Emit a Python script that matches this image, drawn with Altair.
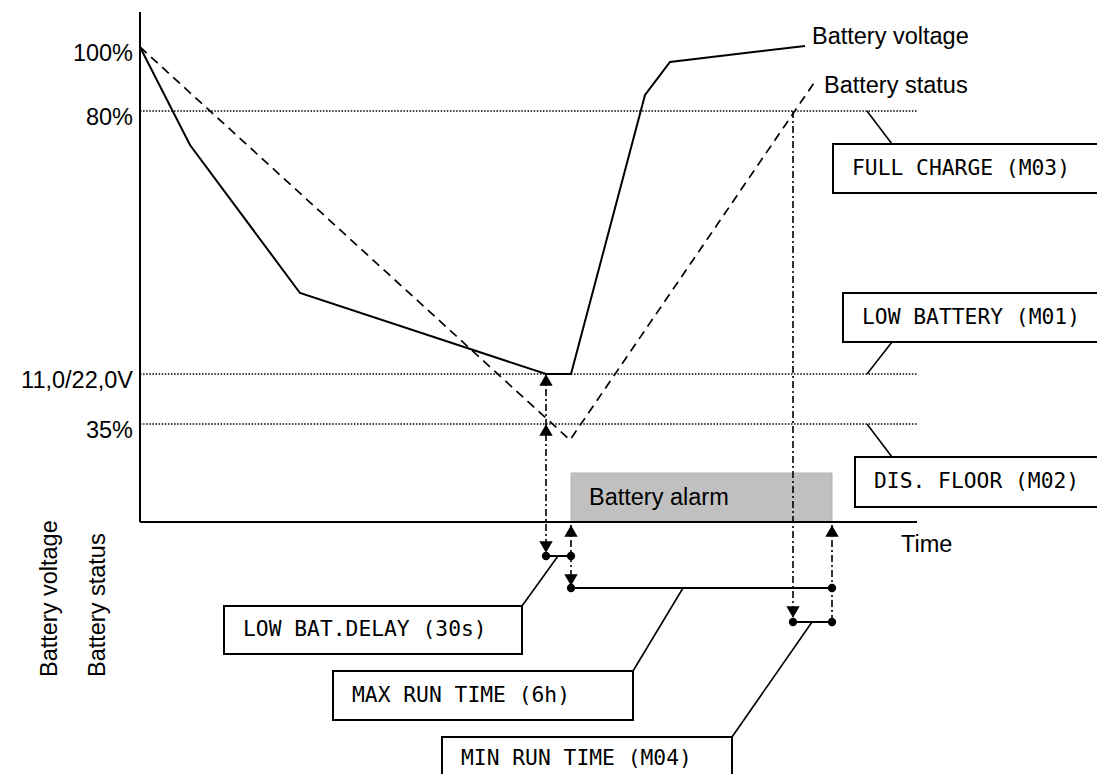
import altair as alt
import pandas as pd

# ---------------- diagram data ----------------
# time units along the horizontal axis, level units above the time axis
volt_t = [0, 50, 160, 406, 431, 505, 530, 665]
volt_L = [475, 377, 229, 148, 148, 427, 460, 476]
stat_t = [0, 430, 676]
stat_L = [475, 82, 442]

tick_labels = ["100%", "80%", "11,0/22,0V", "35%"]
tick_levels = [475, 411, 148, 98]
ref_levels = [411, 148, 98]
axis_end_t = 777
axis_top_L = 510

alarm_t = [431, 692]
alarm_L = [0, 49]

# dash-dot event markers
ev_t = [406, 431, 653, 692]
ev_L0 = [148, -3, 411, -3]
ev_L1 = [-30, -63, -95, -100]

# arrowheads
arr_t = [406, 406, 406, 431, 431, 653, 692]
arr_L = [142, 92, -25, -9, -58, -90, -9]
arr_dir = ["up", "up", "down", "up", "down", "down", "up"]

# timer segments
tim_t0 = [406, 431, 653]
tim_t1 = [431, 692, 692]
tim_L = [-34, -66, -100]

# boxes
box_text = ["FULL CHARGE (M03)", "LOW BATTERY (M01)", "DIS. FLOOR (M02)",
            "LOW BAT.DELAY (30s)", "MAX RUN TIME (6h)", "MIN RUN TIME (M04)"]
box_t0 = [693, 703, 715, 84, 193, 302]
box_t1 = [985, 985, 985, 382, 493, 592]
box_L0 = [329, 180, 15, -132, -198, -258]
box_L1 = [378, 229, 65, -84, -149, -215]

# leader lines
lead_t0 = [727, 727, 727, 418, 543, 672]
lead_L0 = [411, 148, 98, -34, -66, -100]
lead_t1 = [752, 752, 752, 382, 493, 592]
lead_L1 = [378, 180, 65, -84, -149, -215]

series_labels = ["Battery voltage", "Battery status"]
series_label_t = [672, 684]
series_label_L = [485, 436]

y_titles = ["Battery voltage", "Battery status"]
y_title_t = [-90, -42]
y_title_L = [-155, -155]

# ---------------- scales ----------------
xs = alt.Scale(domain=[-132, 957], nice=False, zero=False)
ys = alt.Scale(domain=[-252, 514], nice=False, zero=False)

def X(f):
    return alt.X(f, type="quantitative", scale=xs, axis=None)

def Y(f):
    return alt.Y(f, type="quantitative", scale=ys, axis=None)

SANS = "Liberation Sans"
MONO = "DejaVu Sans Mono"
SANS_SIZE = 23.5
MONO_SIZE = 21.3

layers = []

# alarm rect
alarm_df = pd.DataFrame({"t0": [alarm_t[0]], "t1": [alarm_t[1]], "L0": [alarm_L[0]], "L1": [alarm_L[1]]})
layers.append(alt.Chart(alarm_df).mark_rect(fill="#c0c0c0", stroke="#b0b0b0", strokeWidth=1).encode(
    x=X("t0"), x2="t1", y=Y("L0"), y2="L1"))
layers.append(alt.Chart(pd.DataFrame({"t": [alarm_t[0]], "L": [sum(alarm_L) / 2], "s": ["Battery alarm"]}))
              .mark_text(font=SANS, fontSize=SANS_SIZE, align="left", baseline="middle", dx=18, color="black")
              .encode(x=X("t"), y=Y("L"), text="s:N"))

# reference dotted lines
ref_df = pd.DataFrame({"L": ref_levels, "t0": 0, "t1": axis_end_t})
layers.append(alt.Chart(ref_df).mark_rule(color="black", strokeWidth=1.3, strokeDash=[1.5, 1.6]).encode(
    x=X("t0"), x2="t1", y=Y("L")))

# axes
axes_df = pd.DataFrame({"t0": [0, 0], "t1": [0, axis_end_t], "L0": [axis_top_L, 0], "L1": [0, 0]})
layers.append(alt.Chart(axes_df).mark_rule(color="black", strokeWidth=2).encode(
    x=X("t0"), x2="t1", y=Y("L0"), y2="L1"))

# tick labels
tick_df = pd.DataFrame({"t": 0, "L": tick_levels, "s": tick_labels})
layers.append(alt.Chart(tick_df).mark_text(font=SANS, fontSize=SANS_SIZE, align="right", baseline="middle",
                                           dx=-7, dy=7, color="black")
              .encode(x=X("t"), y=Y("L"), text="s:N"))

# battery status (dashed)
stat_df = pd.DataFrame({"t": stat_t, "L": stat_L, "o": range(len(stat_t))})
layers.append(alt.Chart(stat_df).mark_line(color="black", strokeWidth=1.7, strokeDash=[9, 6]).encode(
    x=X("t"), y=Y("L"), order="o:Q"))

# battery voltage (solid)
volt_df = pd.DataFrame({"t": volt_t, "L": volt_L, "o": range(len(volt_t))})
layers.append(alt.Chart(volt_df).mark_line(color="black", strokeWidth=2).encode(
    x=X("t"), y=Y("L"), order="o:Q"))

# series labels
sl_df = pd.DataFrame({"t": series_label_t, "L": series_label_L, "s": series_labels})
layers.append(alt.Chart(sl_df).mark_text(font=SANS, fontSize=SANS_SIZE, align="left", baseline="middle", color="black")
              .encode(x=X("t"), y=Y("L"), text="s:N"))

# dash-dot event lines
ev_df = pd.DataFrame({"t": ev_t, "L0": ev_L0, "L1": ev_L1})
layers.append(alt.Chart(ev_df).mark_rule(color="black", strokeWidth=1.6, strokeDash=[7, 3, 2, 3]).encode(
    x=X("t"), y=Y("L0"), y2="L1"))

# timer segments
tim_df = pd.DataFrame({"t0": tim_t0, "t1": tim_t1, "L": tim_L})
layers.append(alt.Chart(tim_df).mark_rule(color="black", strokeWidth=2).encode(
    x=X("t0"), x2="t1", y=Y("L")))

# dots at timer ends
dot_df = pd.DataFrame({"t": tim_t0 + tim_t1, "L": tim_L + tim_L})
layers.append(alt.Chart(dot_df).mark_circle(color="black", size=70, opacity=1).encode(
    x=X("t"), y=Y("L")))

# arrowheads
arr_df = pd.DataFrame({"t": arr_t, "L": arr_L, "d": arr_dir})
layers.append(alt.Chart(arr_df[arr_df.d == "up"]).mark_point(shape="triangle-up", filled=True, color="black",
                                                             size=180, opacity=1)
              .encode(x=X("t"), y=Y("L")))
layers.append(alt.Chart(arr_df[arr_df.d == "down"]).mark_point(shape="triangle-down", filled=True, color="black",
                                                               size=180, opacity=1)
              .encode(x=X("t"), y=Y("L")))

# leader lines
lead_df = pd.DataFrame({"t0": lead_t0, "t1": lead_t1, "L0": lead_L0, "L1": lead_L1})
layers.append(alt.Chart(lead_df).mark_rule(color="black", strokeWidth=1.6).encode(
    x=X("t0"), x2="t1", y=Y("L0"), y2="L1"))

# boxes
box_df = pd.DataFrame({"t0": box_t0, "t1": box_t1, "L0": box_L0, "L1": box_L1, "s": box_text})
box_df["Lm"] = (box_df.L0 + box_df.L1) / 2
layers.append(alt.Chart(box_df).mark_rect(fill="white", stroke="black", strokeWidth=2, clip=True).encode(
    x=X("t0"), x2="t1", y=Y("L0"), y2="L1"))
layers.append(alt.Chart(box_df).mark_text(font=MONO, fontSize=MONO_SIZE, align="left", baseline="middle",
                                          dx=19, color="black")
              .encode(x=X("t0"), y=Y("Lm"), text="s:N"))

# time label
layers.append(alt.Chart(pd.DataFrame({"t": [761], "L": [-23], "s": ["Time"]}))
              .mark_text(font=SANS, fontSize=SANS_SIZE, align="left", baseline="middle", color="black")
              .encode(x=X("t"), y=Y("L"), text="s:N"))

# vertical titles
yt_df = pd.DataFrame({"t": y_title_t, "L": y_title_L, "s": y_titles})
layers.append(alt.Chart(yt_df).mark_text(font=SANS, fontSize=SANS_SIZE, align="left", baseline="middle",
                                         angle=270, color="black")
              .encode(x=X("t"), y=Y("L"), text="s:N"))

chart = alt.layer(*layers).properties(
    width=1089, height=766,
    autosize=alt.AutoSizeParams(type="none"),
    padding=0,
).configure_view(stroke=None)

chart.save("out.html", embed_options={"renderer": "svg", "actions": False})
